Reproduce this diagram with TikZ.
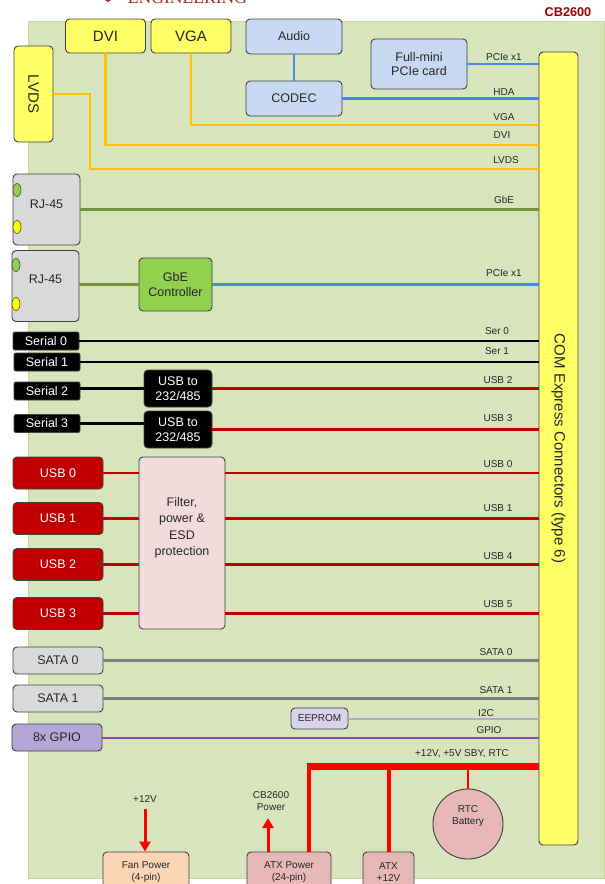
\documentclass[tikz,border=0pt]{standalone}
\usepackage{fontspec}
\setmainfont{Liberation Sans}
\newfontfamily\serifrm{Liberation Serif}
\usepackage{xcolor}
\usepackage{tikz}
\usetikzlibrary{shapes.geometric, positioning, arrows.meta, calc}

\definecolor{board}{HTML}{D8E4BC}
\definecolor{boardedge}{HTML}{C4D79E}
\definecolor{edge}{HTML}{404040}
\definecolor{txt}{HTML}{262626}
\definecolor{vidyellow}{HTML}{FFFF66}
\definecolor{vidorange}{HTML}{FFC000}
\definecolor{audblue}{HTML}{C6D9F1}
\definecolor{busblue}{HTML}{4A86E8}
\definecolor{portgray}{HTML}{D9D9D9}
\definecolor{gbegreen}{HTML}{92D050}
\definecolor{gbeline}{HTML}{77933C}
\definecolor{ledyellow}{HTML}{FFFF00}
\definecolor{usbred}{HTML}{C00000}
\definecolor{filterpink}{HTML}{F2DCDB}
\definecolor{sataline}{HTML}{808080}
\definecolor{eeprom}{HTML}{D9D2E9}
\definecolor{i2cline}{HTML}{B4A7D6}
\definecolor{gpiofill}{HTML}{B4A7D6}
\definecolor{gpioline}{HTML}{7F4FA8}
\definecolor{pwrred}{HTML}{FF0000}
\definecolor{atxpink}{HTML}{E6B8B7}
\definecolor{fanpeach}{HTML}{FCD5B4}
\definecolor{titlered}{HTML}{990000}
\definecolor{engred}{HTML}{A52A2A}

\tikzset{
  box/.style={draw=edge, line width=0.9pt, rounded corners=4pt, align=center,
    inner sep=0pt, text=txt, font=\fontsize{12.5}{14.5}\selectfont},
  vidbox/.style={box, fill=vidyellow, font=\fontsize{15}{17}\selectfont},
  audbox/.style={box, fill=audblue},
  portbox/.style={box, fill=portgray},
  serbox/.style={box, fill=black, text=white, rounded corners=2pt},
  usbbox/.style={box, fill=usbred, text=white},
  pwrbox/.style={box, fill=atxpink, font=\fontsize{10}{12}\selectfont},
  led/.style={ellipse, draw=edge, line width=0.6pt, minimum width=8pt, minimum height=13pt, inner sep=0pt},
  lbl/.style={font=\fontsize{10}{12}\selectfont, text=txt, inner sep=0pt, align=center},
  vidline/.style={draw=vidorange, line width=2.6pt},
  busline/.style={draw=busblue, line width=2.6pt},
  gbeln/.style={draw=gbeline, line width=2.6pt},
  serline/.style={draw=black, line width=2.2pt},
  usbline/.style={draw=usbred, line width=2.6pt},
  sataln/.style={draw=sataline, line width=2.4pt},
  pwrline/.style={draw=pwrred, line width=4pt},
  pwrarrow/.style={draw=pwrred, line width=3pt, -{Triangle[width=11pt,length=10pt]}},
}

\begin{document}
\begin{tikzpicture}[x=1pt, y=-1pt]
        \useasboundingbox (0,0) rectangle (605,884);

        % The board
        \fill[board, draw=boardedge, line width=1pt] (28,21) rectangle (604,878);
        \node[anchor=base, text=engred, font=\serifrm\fontsize{17.6}{18}\selectfont] (eng) at (187.5,3) {ENGINEERING};
        \fill[engred] (105,0) -- (111,0) -- (108,2) -- cycle;
        \node[text=titlered, font=\bfseries\fontsize{12.7}{14}\selectfont] (title) at (568,12) {CB2600};

        % COM Express connector bar
        \node[box, fill=vidyellow, minimum width=39pt, minimum height=793pt,
          label={[rotate=-90, font=\fontsize{15}{17}\selectfont, text=txt]center:COM Express Connectors (type 6)}] (com) at (558.5,448.5) {};

        % Video and audio
        \node[vidbox, minimum width=80pt, minimum height=34pt] (dvi) at (105.5,36) {DVI};
        \node[vidbox, minimum width=80pt, minimum height=34pt] (vga) at (191,36) {VGA};
        \node[vidbox, minimum width=39pt, minimum height=96pt,
          label={[rotate=-90, font=\fontsize{15}{17}\selectfont, text=txt]center:LVDS}] (lvds) at (33.5,94) {};
        \node[audbox, minimum width=96pt, minimum height=35pt] (audio) at (294,36.5) {Audio};
        \node[audbox, minimum width=96pt, minimum height=35pt] (codec) at (294,98.5) {CODEC};
        \node[audbox, minimum width=96pt, minimum height=50pt] (pcie) at (419,64) {Full-mini\\PCIe card};

        % Ethernet
        \node[portbox, minimum width=67pt, minimum height=71pt,
          label={[yshift=5pt, font=\fontsize{12.5}{14.5}\selectfont, text=txt]center:RJ-45}] (rj1) at (46.5,209.5) {};
        \node[led, fill=gbegreen] (rj1a) at (17,190) {};
        \node[led, fill=ledyellow] (rj1b) at (17,227) {};
        \node[portbox, minimum width=67pt, minimum height=71pt,
          label={[yshift=7pt, font=\fontsize{12.5}{14.5}\selectfont, text=txt]center:RJ-45}] (rj2) at (45.5,286) {};
        \node[led, fill=gbegreen] (rj2a) at (16,265) {};
        \node[led, fill=ledyellow] (rj2b) at (16,304) {};
        \node[box, fill=gbegreen, minimum width=73pt, minimum height=53pt] (gbectl) at (175.5,284.5) {GbE\\Controller};

        % Serial ports
        \node[serbox, minimum width=66pt, minimum height=18pt] (ser0) at (46,341) {Serial 0};
        \node[serbox, minimum width=66pt, minimum height=18pt] (ser1) at (47,362) {Serial 1};
        \node[serbox, minimum width=66pt, minimum height=18pt] (ser2) at (47,391) {Serial 2};
        \node[serbox, minimum width=66pt, minimum height=18pt] (ser3) at (47,423.5) {Serial 3};
        \node[serbox, rounded corners=4pt, minimum width=68pt, minimum height=37pt] (conv2) at (178,388.5) {USB to\\232/485};
        \node[serbox, rounded corners=4pt, minimum width=68pt, minimum height=37pt] (conv3) at (178,429.5) {USB to\\232/485};

        % USB ports
        \node[usbbox, minimum width=90pt, minimum height=32pt] (usb0) at (58,473) {USB 0};
        \node[usbbox, minimum width=90pt, minimum height=32pt] (usb1) at (58,518.5) {USB 1};
        \node[usbbox, minimum width=90pt, minimum height=32pt] (usb2) at (58,564.5) {USB 2};
        \node[usbbox, minimum width=90pt, minimum height=32pt] (usb3) at (58,613.5) {USB 3};
        \node[box, fill=filterpink, minimum width=86pt, minimum height=172pt,
          label={[yshift=15pt, align=center, font=\fontsize{12.5}{16.5}\selectfont, text=txt]center:Filter,\\power \&\\ESD\\protection}] (filter) at (182,543) {};

        % SATA, EEPROM and GPIO
        \node[portbox, minimum width=90pt, minimum height=27pt] (sata0) at (58,660.5) {SATA 0};
        \node[portbox, minimum width=90pt, minimum height=27pt] (sata1) at (58,698.5) {SATA 1};
        \node[box, fill=eeprom, minimum width=57pt, minimum height=21pt, font=\fontsize{10}{12}\selectfont] (eeprom) at (319.5,718.5) {EEPROM};
        \node[box, fill=gpiofill, minimum width=90pt, minimum height=27pt] (gpio) at (57,737.5) {8x GPIO};

        % Power
        \node[box, fill=fanpeach, minimum width=86pt, minimum height=40pt, font=\fontsize{10}{12}\selectfont] (fan) at (146,872) {Fan Power\\(4-pin)};
        \node[pwrbox, minimum width=84pt, minimum height=40pt] (atxpwr) at (289,872) {ATX Power\\(24-pin)};
        \node[pwrbox, minimum width=51pt, minimum height=40pt] (atx12) at (388.5,872) {ATX\\+12V};
        \node[circle, draw=edge, line width=0.9pt, fill=atxpink, minimum size=70pt, inner sep=0pt,
          label={[lbl, yshift=8pt]center:RTC\\Battery}] (rtc) at (468,824) {};

        % Bend points and free ends
        \coordinate (vgabend) at (191,125);
        \coordinate (dvibend) at (105,145);
        \coordinate (lvdsbend) at (90,169);
        \coordinate (rail) at (307,766);
        \coordinate (tap) at (309,766);
        \coordinate (fan12) at (145,809);
        \coordinate (cbpwr) at (268,818);

        % Video and audio links
        \draw[busline] (audio.south) -- (codec.north);
        \draw[busline] (pcie.east) -- (pcie.east -| com.west);
        \draw[busline] (codec.east) -- (codec.east -| com.west);
        \draw[vidline] (vga.south) |- (vgabend -| com.west);
        \draw[vidline] (dvi.south) |- (dvibend -| com.west);
        \draw[vidline] (lvds.east) -| (lvdsbend) -- (lvdsbend -| com.west);

        % Ethernet links
        \draw[gbeln] (rj1.east) -- (rj1.east -| com.west);
        \draw[gbeln] (gbectl.west -| rj2.east) -- (gbectl.west);
        \draw[busline] (gbectl.east) -- (gbectl.east -| com.west);

        % Serial links
        \draw[serline] (ser0.east) -- (ser0.east -| com.west);
        \draw[serline] (ser1.east) -- (ser1.east -| com.west);
        \draw[serline] (conv2.west -| ser2.east) -- (conv2.west);
        \draw[serline] (ser3.east) -- (ser3.east -| conv3.west);
        \draw[usbline] (conv2.east) -- (conv2.east -| com.west);
        \draw[usbline] (conv3.east) -- (conv3.east -| com.west);

        % USB links
        \foreach \u in {usb0, usb1, usb2, usb3} {
          \draw[usbline] (\u.east) -- (\u.east -| filter.west);
          \draw[usbline] (\u.east -| filter.east) -- (\u.east -| com.west);
        }

        % SATA, I2C and GPIO links
        \draw[sataln] (sata0.east) -- (sata0.east -| com.west);
        \draw[sataln] (sata1.east) -- (sata1.east -| com.west);
        \draw[draw=i2cline, line width=2pt] (eeprom.east) -- (eeprom.east -| com.west);
        \draw[draw=gpioline, line width=2pt] (gpio.east) -- (gpio.east -| com.west);

        % Power rail
        \draw[pwrred, line width=7pt] (rail) -- (rail -| com.west);
        \draw[pwrline] ([yshift=3.5pt]tap) -- (tap |- atxpwr.north);
        \draw[pwrline] (atx12.north) -- (atx12.north |- rail);
        \draw[pwrred, line width=1.6pt] (rtc.north) -- (rtc.north |- rail);
        \draw[pwrarrow] (fan12) -- (fan12 |- fan.north);
        \draw[pwrarrow] (cbpwr |- atxpwr.north) -- (cbpwr);

        % Signal labels
        \node[lbl] (l1) at (504,57) {PCIe x1};
        \node[lbl] (l2) at (504,92) {HDA};
        \node[lbl] (l3) at (504,117) {VGA};
        \node[lbl] (l4) at (502,135) {DVI};
        \node[lbl] (l5) at (506,160) {LVDS};
        \node[lbl] (l6) at (504,200) {GbE};
        \node[lbl] (l7) at (504,273) {PCIe x1};
        \node[lbl] (l8) at (497,331) {Ser 0};
        \node[lbl] (l9) at (497,351) {Ser 1};
        \node[lbl] (l10) at (498,380) {USB 2};
        \node[lbl] (l11) at (498,418) {USB 3};
        \node[lbl] (l12) at (498,464) {USB 0};
        \node[lbl] (l13) at (498,508) {USB 1};
        \node[lbl] (l14) at (498,556) {USB 4};
        \node[lbl] (l15) at (498,604) {USB 5};
        \node[lbl] (l16) at (496,652) {SATA 0};
        \node[lbl] (l17) at (496,690) {SATA 1};
        \node[lbl] (l18) at (486,713) {I2C};
        \node[lbl] (l19) at (489,730) {GPIO};
        \node[lbl] (l20) at (462,754) {+12V, +5V SBY, RTC};
        \node[lbl] (l21) at (145,799) {+12V};
        \node[lbl] (l22) at (271,801) {CB2600\\Power};
\end{tikzpicture}
\end{document}
